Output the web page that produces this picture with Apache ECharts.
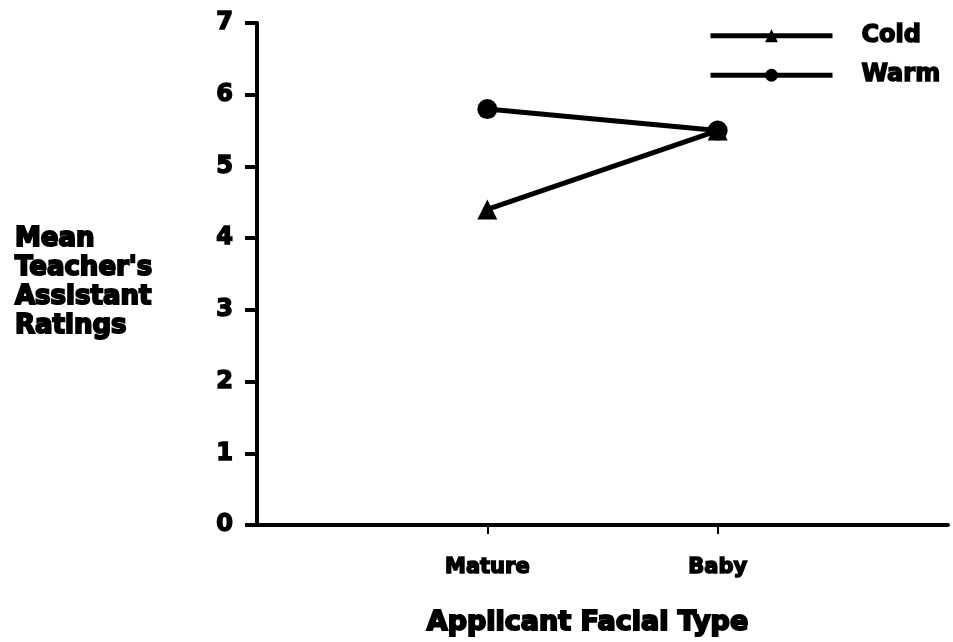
<!DOCTYPE html>
<html>
<head>
    <meta charset="utf-8">
    <title>Applicant Facial Type</title>
    <script src="https://cdn.jsdelivr.net/npm/echarts@6/dist/echarts.min.js"></script>
</head>
<body style="margin:0;background:#fff;">
    <div id="main" style="width: 953px;height:642px;"></div>
    <script type="text/javascript">
        // categories (blank ends pad the axis like the original)
        var categories = ['', 'Mature', 'Baby', ''];
        var coldData = [null, 4.4, 5.5, null];
        var warmData = [null, 5.8, 5.5, null];
        var yTicks = [0, 1, 2, 3, 4, 5, 6, 7];

        var heavy = {
            color: '#000',
            fontFamily: 'DejaVu Sans',
            fontWeight: 'bold',
            textBorderColor: '#000',
            textBorderWidth: 1.5
        };

        var chart = echarts.init(document.getElementById('main'));
        var option = {
            backgroundColor: '#fff',
            animation: false,
            title: {
                text: "Mean\nTeacher's\nAssistant\nRatings",
                left: 10,
                top: 220,
                textStyle: Object.assign({}, heavy, {fontSize: 26, lineHeight: 29, textBorderWidth: 2})
            },
            legend: {
                orient: 'vertical',
                left: 703,
                top: 18,
                itemWidth: 122,
                itemHeight: 16,
                itemGap: 14,
                data: ['Cold', 'Warm'],
                lineStyle: {width: 5, color: '#000'},
                textStyle: Object.assign({}, heavy, {fontSize: 24, padding: [0, 0, 0, 24]})
            },
            grid: {
                left: 257,
                right: 5,
                top: 23,
                bottom: 114
            },
            xAxis: {
                type: 'category',
                boundaryGap: false,
                data: categories,
                name: 'Applicant Facial Type',
                nameLocation: 'middle',
                nameGap: 84,
                nameTextStyle: Object.assign({}, heavy, {fontSize: 27, textBorderWidth: 2, padding: [0, 30, 0, 0]}),
                axisLine: {lineStyle: {color: '#000', width: 4}},
                axisTick: {
                    length: 9,
                    lineStyle: {color: '#000', width: 2},
                    interval: function (i, v) { return v !== ''; }
                },
                axisLabel: Object.assign({}, heavy, {fontSize: 21, margin: 32, interval: 0})
            },
            yAxis: {
                type: 'value',
                min: yTicks[0],
                max: yTicks[yTicks.length - 1],
                interval: 1,
                splitLine: {show: false},
                axisLine: {show: true, lineStyle: {color: '#000', width: 4}},
                axisTick: {show: true, length: 12, lineStyle: {color: '#000', width: 4}},
                axisLabel: Object.assign({}, heavy, {fontSize: 24, margin: 24})
            },
            series: [
                {
                    name: 'Cold',
                    type: 'line',
                    data: coldData,
                    symbol: 'triangle',
                    symbolSize: 20,
                    lineStyle: {color: '#000', width: 5},
                    itemStyle: {color: '#000'}
                },
                {
                    name: 'Warm',
                    type: 'line',
                    data: warmData,
                    symbol: 'circle',
                    symbolSize: 20,
                    lineStyle: {color: '#000', width: 5},
                    itemStyle: {color: '#000'}
                }
            ]
        };
        chart.setOption(option);
    </script>
</body>
</html>
